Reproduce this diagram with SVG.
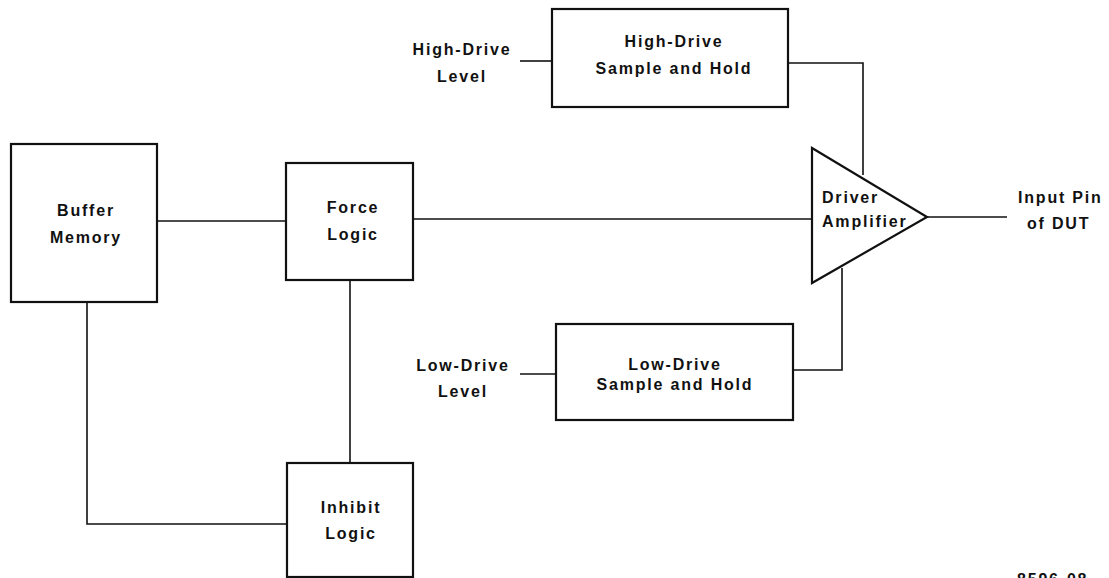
<svg xmlns="http://www.w3.org/2000/svg" width="1109" height="578" viewBox="0 0 1109 578">
<style>
.box{fill:#fff;stroke:#111;stroke-width:2.2}
.ln{fill:none;stroke:#111;stroke-width:1.6}
text{font-family:"Liberation Sans",Arial,sans-serif;font-weight:bold;font-size:16px;fill:#111;letter-spacing:1.8px;text-anchor:middle;dominant-baseline:central}
.st{text-anchor:start}
.fig{dominant-baseline:auto}
</style>
<rect width="1109" height="578" fill="#fff"/>
<g id="connectors">
<path class="ln" d="M157,221 H286"/>
<path class="ln" d="M413,219 H812"/>
<path class="ln" d="M350,280 V463"/>
<path class="ln" d="M87,302 V524 H287"/>
<path class="ln" d="M520,61 H552"/>
<path class="ln" d="M788,63 H863 V175"/>
<path class="ln" d="M520,374 H556"/>
<path class="ln" d="M793,370 H842 V268"/>
<path class="ln" d="M927,217 H1007"/>
</g>
<g id="buffer-memory">
<rect class="box" x="11" y="144" width="146" height="158"/>
<text x="86" y="210">Buffer</text>
<text x="86" y="237">Memory</text>
</g>
<g id="force-logic">
<rect class="box" x="286" y="163" width="127" height="117"/>
<text x="353" y="207">Force</text>
<text x="353" y="234">Logic</text>
</g>
<g id="inhibit-logic">
<rect class="box" x="287" y="463" width="126" height="114"/>
<text x="351" y="507">Inhibit</text>
<text x="351" y="533">Logic</text>
</g>
<g id="high-drive-level">
<text x="462" y="49">High-Drive</text>
<text x="462" y="76">Level</text>
</g>
<g id="high-drive-sh">
<rect class="box" x="552" y="9" width="236" height="98"/>
<text x="674" y="41">High-Drive</text>
<text x="674" y="68">Sample and Hold</text>
</g>
<g id="low-drive-level">
<text x="463" y="365">Low-Drive</text>
<text x="463" y="391">Level</text>
</g>
<g id="low-drive-sh">
<rect class="box" x="556" y="324" width="237" height="96"/>
<text x="675" y="364">Low-Drive</text>
<text x="675" y="384">Sample and Hold</text>
</g>
<g id="driver-amplifier">
<polygon class="box" points="812,148 927,217 812,283"/>
<text class="st" x="822" y="197">Driver</text>
<text class="st" x="822" y="221">Amplifier</text>
</g>
<g id="input-pin">
<text class="st" x="1018" y="197">Input Pin</text>
<text class="st" x="1027" y="223">of DUT</text>
</g>
<text class="st fig" x="1017" y="585">8596-08</text>
</svg>
